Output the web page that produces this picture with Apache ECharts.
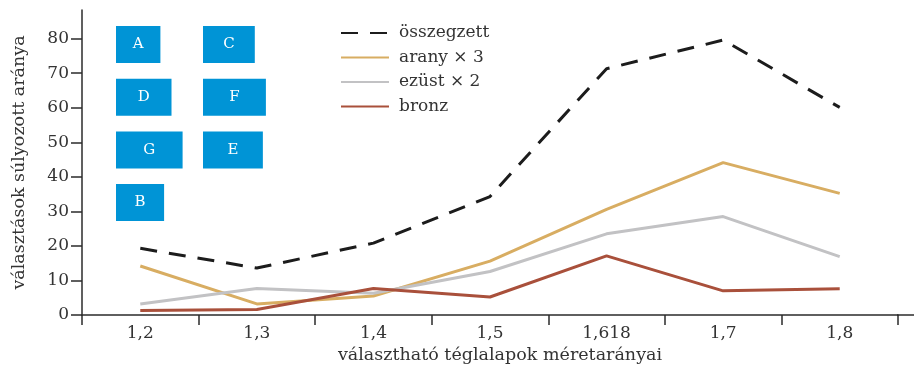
<!DOCTYPE html>
<html>
<head>
<meta charset="utf-8">
<script src="https://cdn.jsdelivr.net/npm/echarts@6/dist/echarts.min.js"></script>
<style>
  html, body { margin: 0; padding: 0; background: #fff; }
  #chart { width: 914px; height: 367px; }
</style>
</head>
<body>
<div id="chart"></div>
<script>
// Aspect ratios of the candidate rectangles (x axis)
const categories = ['1,2', '1,3', '1,4', '1,5', '1,618', '1,7', '1,8'];

// Weighted share of choices per ratio
const osszegzett = [19.3, 13.6, 20.8, 34.3, 71.3, 79.6, 60.1];
const arany3     = [14.2, 3.2, 5.5, 15.6, 30.6, 44.1, 35.2];
const ezust2     = [3.2, 7.7, 6.3, 12.6, 23.5, 28.5, 16.9];
const bronz      = [1.3, 1.6, 7.7, 5.2, 17.1, 7.0, 7.6];

const yTicks = [0, 10, 20, 30, 40, 50, 60, 70, 80];

// Sample rectangles shown to respondents: letter and width/height ratio
const boxLetters = ['A', 'B', 'C', 'D', 'E', 'F', 'G'];
const boxRatios  = [1.2, 1.3, 1.4, 1.5, 1.618, 1.7, 1.8];

const FONT = '"DejaVu Serif", "Liberation Serif", serif';
const AXIS_COLOR = '#2b2b2b';
const TEXT_COLOR = '#333333';

const chart = echarts.init(document.getElementById('chart'), null, { renderer: 'canvas' });

// Rectangle tiles: two columns, fixed row pitch, all at the same height
const boxHeight = 37;
const colX = [116, 203];
const rowY = [26, 78.7, 131.4, 184];
const slots = { A: [0, 0], C: [1, 0], D: [0, 1], F: [1, 1], G: [0, 2], E: [1, 2], B: [0, 3] };

const boxGraphics = boxLetters.map((letter, i) => {
  const [c, r] = slots[letter];
  const w = boxRatios[i] * boxHeight;
  return {
    type: 'group',
    left: colX[c],
    top: rowY[r],
    children: [
      { type: 'rect', shape: { x: 0, y: 0, width: w, height: boxHeight },
        style: { fill: '#0094d6' } },
      { type: 'text', x: w / 2, y: boxHeight / 2,
        style: { text: letter, fill: '#ffffff', font: '15px ' + FONT,
                 align: 'center', verticalAlign: 'middle' } }
    ]
  };
});

const lineBase = { type: 'line', symbol: 'none', silent: true, animation: false };

chart.setOption({
  animation: false,
  grid: { left: 82, right: 16, top: 10, bottom: 52, containLabel: false, outerBoundsMode: 'none' },
  legend: {
    orient: 'vertical',
    left: 340,
    top: 24,
    padding: 0,
    itemWidth: 48,
    itemHeight: 12,
    itemGap: 6.5,
    selectedMode: false,
    itemStyle: { opacity: 0 },
    textStyle: { fontFamily: FONT, fontSize: 17, color: TEXT_COLOR, lineHeight: 18, padding: [0, 0, 0, 5] },
    data: ['összegzett', 'arany × 3', 'ezüst × 2', 'bronz']
  },
  xAxis: {
    type: 'category',
    data: categories,
    boundaryGap: true,
    name: 'választható téglalapok méretarányai',
    nameLocation: 'middle',
    nameGap: 29,
    nameTextStyle: { fontFamily: FONT, fontSize: 17.5, color: TEXT_COLOR, padding: [0, 0, 0, 20] },
    axisLine: { lineStyle: { color: AXIS_COLOR, width: 1.5 } },
    axisTick: { show: true, inside: false, length: 10, alignWithLabel: false,
                lineStyle: { color: AXIS_COLOR, width: 1.5 } },
    axisLabel: { fontFamily: FONT, fontSize: 17, color: TEXT_COLOR, margin: 10 },
    splitLine: { show: false }
  },
  yAxis: {
    type: 'value',
    min: 0,
    max: 88.3,
    name: 'választások súlyozott aránya',
    nameLocation: 'middle',
    nameRotate: 90,
    nameGap: 54,
    nameTextStyle: { fontFamily: FONT, fontSize: 17.5, color: TEXT_COLOR },
    axisLine: { show: true, lineStyle: { color: AXIS_COLOR, width: 1.5 } },
    axisTick: { show: true, inside: false, length: 11, customValues: yTicks,
                lineStyle: { color: AXIS_COLOR, width: 1.5 } },
    axisLabel: { fontFamily: FONT, fontSize: 17, color: TEXT_COLOR, margin: 13, customValues: yTicks },
    splitLine: { show: false }
  },
  graphic: [
    // axis line continues past the last category band
    { type: 'line', shape: { x1: 897, y1: 315, x2: 914, y2: 315 },
      style: { stroke: AXIS_COLOR, lineWidth: 1.5 } },
    ...boxGraphics
  ],
  series: [
    Object.assign({}, lineBase, { name: 'összegzett', data: osszegzett, z: 5,
      lineStyle: { color: '#1c1c1c', width: 3, type: [17, 12] },
      itemStyle: { color: '#1c1c1c' } }),
    Object.assign({}, lineBase, { name: 'arany × 3', data: arany3,
      lineStyle: { color: '#d8ad62', width: 3 }, itemStyle: { color: '#d8ad62' } }),
    Object.assign({}, lineBase, { name: 'ezüst × 2', data: ezust2,
      lineStyle: { color: '#c2c2c4', width: 3 }, itemStyle: { color: '#c2c2c4' } }),
    Object.assign({}, lineBase, { name: 'bronz', data: bronz,
      lineStyle: { color: '#a9503b', width: 3 }, itemStyle: { color: '#a9503b' } })
  ]
});
</script>
</body>
</html>
